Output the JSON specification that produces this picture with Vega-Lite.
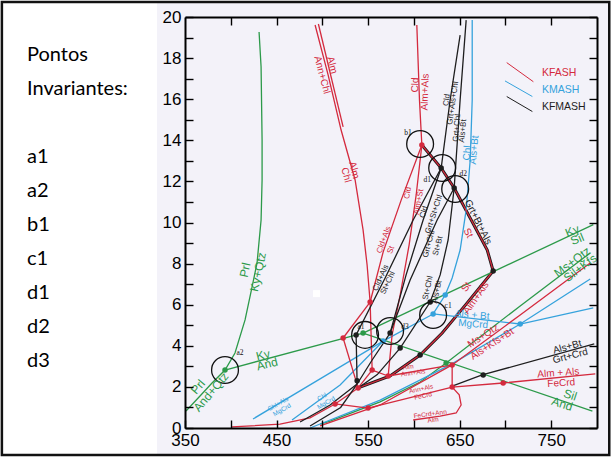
{
  "$schema": "https://vega.github.io/schema/vega-lite/v6.json",
  "background": "white",
  "padding": 0,
  "spacing": 131,
  "bounds": "flush",
  "config": {
    "view": {"stroke": null},
    "axis": {"zindex": 2, "domainColor": "black", "domainWidth": 2, "tickColor": "black", "tickWidth": 1.4, "tickSize": -8, "labelFont": "Liberation Sans", "labelFontSize": 17, "labelColor": "black", "labelPadding": 12, "grid": false, "labelFlush": false, "labelOverlap": false}
  },
  "datasets": {
    "side": [
      {"t": "Pontos", "row": 0}, {"t": "Invariantes:", "row": 1},
      {"t": "a1", "row": 3}, {"t": "a2", "row": 4}, {"t": "b1", "row": 5}, {"t": "c1", "row": 6},
      {"t": "d1", "row": 7}, {"t": "d2", "row": 8}, {"t": "d3", "row": 9}
    ],
    "frame": [{"part": "sheet"}],
    "lines": [
      {"id":"G1","sys":"AS","o":0,"T":351.1,"P":0.83},{"id":"G1","sys":"AS","o":1,"T":366.4,"P":1.56},{"id":"G1","sys":"AS","o":2,"T":379.5,"P":2.19},{"id":"G1","sys":"AS","o":3,"T":393.7,"P":2.82},{"id":"G1","sys":"AS","o":4,"T":404.6,"P":3.65},{"id":"G1","sys":"AS","o":5,"T":415.6,"P":5.26},{"id":"G1","sys":"AS","o":6,"T":423.2,"P":6.86},{"id":"G1","sys":"AS","o":7,"T":428.7,"P":8.03},{"id":"G1","sys":"AS","o":8,"T":433.1,"P":10.12},{"id":"G1","sys":"AS","o":9,"T":434.2,"P":12.07},{"id":"G1","sys":"AS","o":10,"T":434.2,"P":14.01},{"id":"G1","sys":"AS","o":11,"T":433.1,"P":17.57},{"id":"G1","sys":"AS","o":12,"T":430.9,"P":19.27},
      {"id":"G2","sys":"AS","o":0,"T":393.7,"P":2.82},{"id":"G2","sys":"AS","o":1,"T":544.5,"P":4.62},
      {"id":"G3","sys":"AS","o":0,"T":544.5,"P":4.62},{"id":"G3","sys":"AS","o":1,"T":796,"P":9.9},
      {"id":"G4","sys":"AS","o":0,"T":544.5,"P":4.62},{"id":"G4","sys":"AS","o":1,"T":795,"P":0.82},
      {"id":"G5","sys":"AS","o":0,"T":497.5,"P":0.19},{"id":"G5","sys":"AS","o":1,"T":508.5,"P":0.34},{"id":"G5","sys":"AS","o":2,"T":563.1,"P":1.27},{"id":"G5","sys":"AS","o":3,"T":606.8,"P":2.24},{"id":"G5","sys":"AS","o":4,"T":635.2,"P":3.16},{"id":"G5","sys":"AS","o":5,"T":716.1,"P":5.94},{"id":"G5","sys":"AS","o":6,"T":792.6,"P":8.52},
      {"id":"B1","sys":"KMASH","o":0,"T":663.7,"P":19.85},{"id":"B1","sys":"KMASH","o":1,"T":663.7,"P":15.96},{"id":"B1","sys":"KMASH","o":2,"T":661.5,"P":13.04},{"id":"B1","sys":"KMASH","o":3,"T":657.1,"P":10.61},{"id":"B1","sys":"KMASH","o":4,"T":650.5,"P":8.66},{"id":"B1","sys":"KMASH","o":5,"T":641.8,"P":7.3},{"id":"B1","sys":"KMASH","o":6,"T":634.2,"P":6.47},{"id":"B1","sys":"KMASH","o":7,"T":621.0,"P":5.55},
      {"id":"B2","sys":"KMASH","o":0,"T":424.3,"P":0.44},{"id":"B2","sys":"KMASH","o":1,"T":508.5,"P":2.68},{"id":"B2","sys":"KMASH","o":2,"T":566.4,"P":4.23},{"id":"B2","sys":"KMASH","o":3,"T":621.0,"P":5.55},
      {"id":"B3","sys":"KMASH","o":0,"T":621.0,"P":5.55},{"id":"B3","sys":"KMASH","o":1,"T":716.1,"P":5.06},{"id":"B3","sys":"KMASH","o":2,"T":795.9,"P":5.84},
      {"id":"B4","sys":"KMASH","o":0,"T":486.6,"P":0.0},{"id":"B4","sys":"KMASH","o":1,"T":563.1,"P":1.36},{"id":"B4","sys":"KMASH","o":2,"T":639.6,"P":3.07},{"id":"B4","sys":"KMASH","o":3,"T":716.1,"P":5.06},{"id":"B4","sys":"KMASH","o":4,"T":792.6,"P":7.25},
      {"id":"B5","sys":"KMASH","o":0,"T":466.9,"P":0.39},{"id":"B5","sys":"KMASH","o":1,"T":519.4,"P":2.09},{"id":"B5","sys":"KMASH","o":2,"T":566.4,"P":4.23},
      {"id":"R1","sys":"KFASH","o":0,"T":492.1,"P":19.61},{"id":"R1","sys":"KFASH","o":1,"T":506.3,"P":17.18},{"id":"R1","sys":"KFASH","o":2,"T":520.5,"P":14.5},{"id":"R1","sys":"KFASH","o":3,"T":535.8,"P":12.07},{"id":"R1","sys":"KFASH","o":4,"T":544.5,"P":9.64},{"id":"R1","sys":"KFASH","o":5,"T":548.9,"P":7.93},{"id":"R1","sys":"KFASH","o":6,"T":552.2,"P":6.13},{"id":"R1","sys":"KFASH","o":7,"T":554.4,"P":2.82},
      {"id":"R1b","sys":"KFASH","o":0,"T":495.7,"P":19.66},{"id":"R1b","sys":"KFASH","o":1,"T":522.7,"P":14.65},
      {"id":"R2","sys":"KFASH","o":0,"T":603.2,"P":19.61},{"id":"R2","sys":"KFASH","o":1,"T":606.1,"P":15.96},{"id":"R2","sys":"KFASH","o":2,"T":608.7,"P":13.77},
      {"id":"R3","sys":"KFASH","o":0,"T":608.7,"P":13.77},{"id":"R3","sys":"KFASH","o":1,"T":602.5,"P":11.34},{"id":"R3","sys":"KFASH","o":2,"T":594.8,"P":8.91},{"id":"R3","sys":"KFASH","o":3,"T":585.0,"P":6.47},{"id":"R3","sys":"KFASH","o":4,"T":576.2,"P":4.53},{"id":"R3","sys":"KFASH","o":5,"T":571.9,"P":2.53},
      {"id":"R4","sys":"KFASH","o":0,"T":608.7,"P":13.77},{"id":"R4","sys":"KFASH","o":1,"T":586.1,"P":11.09},{"id":"R4","sys":"KFASH","o":2,"T":566.4,"P":8.56},{"id":"R4","sys":"KFASH","o":3,"T":552.2,"P":6.13},
      {"id":"R5","sys":"KFASH","o":0,"T":608.7,"P":13.77},{"id":"R5","sys":"KFASH","o":1,"T":629.8,"P":12.65},{"id":"R5","sys":"KFASH","o":2,"T":644.0,"P":11.68},{"id":"R5","sys":"KFASH","o":3,"T":680.1,"P":8.66},{"id":"R5","sys":"KFASH","o":4,"T":686.6,"P":7.64},
      {"id":"R6","sys":"KFASH","o":0,"T":686.6,"P":7.64},{"id":"R6","sys":"KFASH","o":1,"T":657.1,"P":6.03},{"id":"R6","sys":"KFASH","o":2,"T":630.9,"P":4.62},{"id":"R6","sys":"KFASH","o":3,"T":606.8,"P":3.55},{"id":"R6","sys":"KFASH","o":4,"T":574.0,"P":2.53},{"id":"R6","sys":"KFASH","o":5,"T":539.1,"P":1.95},
      {"id":"R7","sys":"KFASH","o":0,"T":571.9,"P":2.53},{"id":"R7","sys":"KFASH","o":1,"T":641.8,"P":3.07},
      {"id":"R8","sys":"KFASH","o":0,"T":641.8,"P":1.99},{"id":"R8","sys":"KFASH","o":1,"T":697.5,"P":2.19},{"id":"R8","sys":"KFASH","o":2,"T":798.1,"P":2.63},
      {"id":"R9","sys":"KFASH","o":0,"T":641.8,"P":3.07},{"id":"R9","sys":"KFASH","o":1,"T":641.8,"P":1.99},
      {"id":"R10","sys":"KFASH","o":0,"T":641.8,"P":1.99},{"id":"R10","sys":"KFASH","o":1,"T":550.0,"P":0.97},
      {"id":"R11","sys":"KFASH","o":0,"T":641.8,"P":1.99},{"id":"R11","sys":"KFASH","o":1,"T":649.5,"P":1.61},{"id":"R11","sys":"KFASH","o":2,"T":651.6,"P":1.12},{"id":"R11","sys":"KFASH","o":3,"T":646.2,"P":0.73},{"id":"R11","sys":"KFASH","o":4,"T":628.7,"P":0.58},{"id":"R11","sys":"KFASH","o":5,"T":599.2,"P":0.39},
      {"id":"R12","sys":"KFASH","o":0,"T":401.4,"P":0.05},{"id":"R12","sys":"KFASH","o":1,"T":453.8,"P":0.19},{"id":"R12","sys":"KFASH","o":2,"T":486.6,"P":0.49},{"id":"R12","sys":"KFASH","o":3,"T":513.9,"P":1.17},
      {"id":"R13","sys":"KFASH","o":0,"T":513.9,"P":1.17},{"id":"R13","sys":"KFASH","o":1,"T":550.0,"P":0.97},
      {"id":"R14","sys":"KFASH","o":0,"T":552.2,"P":6.13},{"id":"R14","sys":"KFASH","o":1,"T":522.7,"P":4.38},
      {"id":"R15","sys":"KFASH","o":0,"T":522.7,"P":4.38},{"id":"R15","sys":"KFASH","o":1,"T":539.1,"P":1.95},
      {"id":"R16","sys":"KFASH","o":0,"T":539.1,"P":1.95},{"id":"R16","sys":"KFASH","o":1,"T":513.9,"P":1.17},
      {"id":"R17","sys":"KFASH","o":0,"T":539.1,"P":1.95},{"id":"R17","sys":"KFASH","o":1,"T":554.4,"P":2.82},
      {"id":"R18","sys":"KFASH","o":0,"T":554.4,"P":2.82},{"id":"R18","sys":"KFASH","o":1,"T":571.9,"P":2.53},
      {"id":"Rm","sys":"KFASH","o":0,"T":497.5,"P":0.1},{"id":"Rm","sys":"KFASH","o":1,"T":563.1,"P":1.12},{"id":"Rm","sys":"KFASH","o":2,"T":641.8,"P":3.07},{"id":"Rm","sys":"KFASH","o":3,"T":716.1,"P":5.5},{"id":"Rm","sys":"KFASH","o":4,"T":792.6,"P":8.03},
      {"id":"K1","sys":"KFMASH","o":0,"T":650.5,"P":19.12},{"id":"K1","sys":"KFMASH","o":1,"T":639.6,"P":15.96},{"id":"K1","sys":"KFMASH","o":2,"T":629.8,"P":12.65},{"id":"K1","sys":"KFMASH","o":3,"T":610.1,"P":10.12},{"id":"K1","sys":"KFMASH","o":4,"T":591.5,"P":7.45},{"id":"K1","sys":"KFMASH","o":5,"T":574.0,"P":4.62},
      {"id":"K2","sys":"KFMASH","o":0,"T":657.1,"P":19.85},{"id":"K2","sys":"KFMASH","o":1,"T":650.5,"P":15.96},{"id":"K2","sys":"KFMASH","o":2,"T":644.0,"P":11.68},{"id":"K2","sys":"KFMASH","o":3,"T":637.4,"P":9.15},{"id":"K2","sys":"KFMASH","o":4,"T":628.7,"P":7.45},{"id":"K2","sys":"KFMASH","o":5,"T":617.8,"P":6.13},{"id":"K2","sys":"KFMASH","o":6,"T":585.0,"P":3.89},{"id":"K2","sys":"KFMASH","o":7,"T":560.0,"P":2.6},{"id":"K2","sys":"KFMASH","o":8,"T":539.1,"P":1.95},
      {"id":"K4","sys":"KFMASH","o":0,"T":629.8,"P":12.65},{"id":"K4","sys":"KFMASH","o":1,"T":599.2,"P":10.12},{"id":"K4","sys":"KFMASH","o":2,"T":568.6,"P":7.3},{"id":"K4","sys":"KFMASH","o":3,"T":536.9,"P":4.53},{"id":"K4","sys":"KFMASH","o":4,"T":538.0,"P":2.14},
      {"id":"K6","sys":"KFMASH","o":0,"T":644.0,"P":11.68},{"id":"K6","sys":"KFMASH","o":1,"T":625.4,"P":10.12},{"id":"K6","sys":"KFMASH","o":2,"T":595.9,"P":7.2},{"id":"K6","sys":"KFMASH","o":3,"T":574.0,"P":4.62},
      {"id":"K7","sys":"KFMASH","o":0,"T":574.0,"P":4.62},{"id":"K7","sys":"KFMASH","o":1,"T":554.4,"P":3.31},{"id":"K7","sys":"KFMASH","o":2,"T":538.0,"P":2.14},
      {"id":"K8","sys":"KFMASH","o":0,"T":641.8,"P":2.04},{"id":"K8","sys":"KFMASH","o":1,"T":674.6,"P":2.58},{"id":"K8","sys":"KFMASH","o":2,"T":797.0,"P":4.09},
      {"id":"K12","sys":"KFMASH","o":0,"T":475.7,"P":0.29},{"id":"K12","sys":"KFMASH","o":1,"T":508.5,"P":1.12},{"id":"K12","sys":"KFMASH","o":2,"T":538.0,"P":2.14},
      {"id":"K13","sys":"KFMASH","o":0,"T":486.6,"P":0.1},{"id":"K13","sys":"KFMASH","o":1,"T":520.0,"P":1.0},{"id":"K13","sys":"KFMASH","o":2,"T":538.0,"P":2.14}
    ],
    "under": [
      {"id":"D1","o":0,"T":608.7,"P":13.77},{"id":"D1","o":1,"T":629.8,"P":12.65},{"id":"D1","o":2,"T":644.0,"P":11.68},{"id":"D1","o":3,"T":680.1,"P":8.66},{"id":"D1","o":4,"T":686.6,"P":7.64},
      {"id":"D2","o":0,"T":686.6,"P":7.64},{"id":"D2","o":1,"T":657.1,"P":6.03},{"id":"D2","o":2,"T":630.9,"P":4.62},{"id":"D2","o":3,"T":606.8,"P":3.55},{"id":"D2","o":4,"T":574.0,"P":2.53},{"id":"D2","o":5,"T":539.1,"P":1.95}
    ],
    "dots": [
      {"sys":"AS","T":393.7,"P":2.82},{"sys":"AS","T":544.5,"P":4.62},{"sys":"AS","T":635.2,"P":3.16},
      {"sys":"KFASH","T":608.7,"P":13.77},{"sys":"KFASH","T":552.2,"P":6.13},{"sys":"KFASH","T":522.7,"P":4.38},{"sys":"KFASH","T":554.4,"P":2.82},{"sys":"KFASH","T":571.9,"P":2.53},{"sys":"KFASH","T":539.1,"P":1.95},{"sys":"KFASH","T":513.9,"P":1.17},{"sys":"KFASH","T":550.0,"P":0.97},{"sys":"KFASH","T":641.8,"P":3.07},{"sys":"KFASH","T":641.8,"P":1.99},{"sys":"KFASH","T":697.5,"P":2.19},
      {"sys":"KFMASH","T":629.8,"P":12.65},{"sys":"KFMASH","T":644.0,"P":11.68},{"sys":"KFMASH","T":574.0,"P":4.62},{"sys":"KFMASH","T":536.9,"P":4.53},{"sys":"KFMASH","T":617.8,"P":6.13},{"sys":"KFMASH","T":585.0,"P":3.89},{"sys":"KFMASH","T":606.8,"P":3.55},{"sys":"KFMASH","T":675.7,"P":2.58},{"sys":"KFMASH","T":538.0,"P":2.3},{"sys":"KFMASH","T":686.6,"P":7.64},
      {"sys":"KMASH","T":634.2,"P":6.47},{"sys":"KMASH","T":621.0,"P":5.55},{"sys":"KMASH","T":566.4,"P":4.23},{"sys":"KMASH","T":716.1,"P":5.06}
    ],
    "rings": [
      {"pt":"a2","T":393.7,"P":2.82},{"pt":"a1","T":546.7,"P":4.53},{"pt":"b1","T":606.8,"P":13.82},{"pt":"d1","T":630.9,"P":12.65},{"pt":"d2","T":645.1,"P":11.63},{"pt":"c1","T":621.0,"P":5.5},{"pt":"d3","T":574.0,"P":4.72}
    ],
    "ringlabels": [
      {"t":"a2","T":410.1,"P":3.65},{"t":"b1","T":593.7,"P":14.36},{"t":"d1","T":614.5,"P":12.07},{"t":"d2","T":653.8,"P":12.36},{"t":"c1","T":637.4,"P":5.94},{"t":"d3","T":590.4,"P":4.91},{"t":"a1","T":542.3,"P":4.91}
    ],
    "labL": [
      {"t":"Prl","T":415.6,"P":7.69,"sys":"AS","rot":-78},{"t":"Ky+Qtz","T":429.8,"P":7.59,"sys":"AS","rot":-78},
      {"t":"Prl","T":364.2,"P":2.0,"sys":"AS","rot":-50},{"t":"And+Qtz","T":378.4,"P":1.75,"sys":"AS","rot":-50},
      {"t":"Ky","T":435.2,"P":3.55,"sys":"AS","rot":-14},{"t":"And","T":439.6,"P":3.11,"sys":"AS","rot":-14},
      {"t":"Ky","T":773.0,"P":9.59,"sys":"AS","rot":-22},{"t":"Sil","T":778.4,"P":9.2,"sys":"AS","rot":-22},
      {"t":"Ms+Qtz","T":773.0,"P":8.08,"sys":"AS","rot":-37},{"t":"Sil+Kfs","T":781.7,"P":7.79,"sys":"AS","rot":-37},
      {"t":"Sil","T":770.8,"P":1.61,"sys":"AS","rot":18},{"t":"And","T":762.0,"P":1.17,"sys":"AS","rot":18}
    ],
    "labM": [
      {"t":"Als+Bt","T":767.5,"P":3.94,"sys":"KFMASH","rot":-15},{"t":"Grt+Crd","T":770.8,"P":3.5,"sys":"KFMASH","rot":-15},
      {"t":"Alm + Als","T":757.7,"P":2.68,"sys":"KFASH","rot":-4},{"t":"FeCrd","T":760.9,"P":2.19,"sys":"KFASH","rot":-4},
      {"t":"Als + Bt","T":663.7,"P":5.5,"sys":"KMASH","rot":5},{"t":"MgCrd","T":664.8,"P":5.06,"sys":"KMASH","rot":5},
      {"t":"Ms+Qtz","T":675.7,"P":4.48,"sys":"KFASH","rot":-33},{"t":"Als+Kfs+Bt","T":685.5,"P":4.09,"sys":"KFASH","rot":-33},
      {"t":"St","T":657.1,"P":6.86,"sys":"KFASH","rot":-55},{"t":"Alm+Als","T":668.0,"P":6.33,"sys":"KFASH","rot":-55},
      {"t":"Grt+Bt+Als","T":670.2,"P":10.02,"sys":"KFMASH","rot":63},{"t":"St","T":659.3,"P":9.49,"sys":"KFASH","rot":63},
      {"t":"Chl","T":658.2,"P":13.38,"sys":"KMASH","rot":-85},{"t":"Als+Bt","T":665.8,"P":13.53,"sys":"KMASH","rot":-85},
      {"t":"Cld","T":601.4,"P":16.69,"sys":"KFASH","rot":-88},{"t":"Alm+Als","T":612.3,"P":16.35,"sys":"KFASH","rot":-88},
      {"t":"Alm","T":510.7,"P":17.66,"sys":"KFASH","rot":75},{"t":"Ann+Chl","T":499.7,"P":17.18,"sys":"KFASH","rot":75},
      {"t":"Alm","T":534.7,"P":12.55,"sys":"KFASH","rot":75},{"t":"Chl","T":526.0,"P":12.31,"sys":"KFASH","rot":75}
    ],
    "labS": [
      {"t":"Cld","T":593.7,"P":11.44,"sys":"KFASH","rot":-80},{"t":"Alm+St","T":605.7,"P":11.0,"sys":"KFASH","rot":-80},
      {"t":"Cld+Als","T":567.5,"P":9.15,"sys":"KFASH","rot":-70},{"t":"St","T":575.1,"P":8.66,"sys":"KFASH","rot":-70},
      {"t":"Cld+Als","T":564.2,"P":7.3,"sys":"KFMASH","rot":-65},{"t":"St+Chl","T":571.9,"P":7.06,"sys":"KFMASH","rot":-65},
      {"t":"Cld","T":611.2,"P":10.5,"sys":"KFMASH","rot":-72},{"t":"Grt+St+Chl","T":622.1,"P":10.4,"sys":"KFMASH","rot":-72},
      {"t":"Grt+Chl","T":616.7,"P":8.95,"sys":"KFMASH","rot":-75},{"t":"St+Bt","T":626.5,"P":8.86,"sys":"KFMASH","rot":-75},
      {"t":"St+Chl","T":615.6,"P":6.81,"sys":"KFMASH","rot":-78},{"t":"Als+Bt","T":625.4,"P":6.62,"sys":"KFMASH","rot":-78},
      {"t":"Cld","T":636.3,"P":15.96,"sys":"KFMASH","rot":-82},{"t":"Grt+Als+Chl","T":642.9,"P":15.81,"sys":"KFMASH","rot":-82},
      {"t":"Grt+Chl","T":647.3,"P":14.6,"sys":"KFMASH","rot":-85},{"t":"Als+Bt","T":653.8,"P":14.45,"sys":"KFMASH","rot":-85}
    ],
    "labXS": [
      {"t":"Chl+Als","T":451.6,"P":1.17,"sys":"KMASH","rot":-30},{"t":"MgCrd","T":456.0,"P":0.88,"sys":"KMASH","rot":-30},
      {"t":"Chl","T":499.7,"P":1.51,"sys":"KMASH","rot":-30},{"t":"MgCrd","T":504.1,"P":1.22,"sys":"KMASH","rot":-30},
      {"t":"FeCrd+Ann","T":617.8,"P":0.68,"sys":"KFASH","rot":-8},{"t":"Alm","T":621.0,"P":0.39,"sys":"KFASH","rot":-8},
      {"t":"Alm","T":593.7,"P":2.97,"sys":"KFASH","rot":-8},{"t":"Ann+Als","T":599.2,"P":2.68,"sys":"KFASH","rot":-8},
      {"t":"Ann+Als","T":607.9,"P":1.9,"sys":"KFASH","rot":-12},{"t":"FeCrd","T":610.1,"P":1.56,"sys":"KFASH","rot":-12}
    ],
    "keylines": [
      {"sys":"KFASH","T1":701.4,"P1":17.78,"T2":730.5,"P2":16.85},
      {"sys":"KMASH","T1":699.5,"P1":16.89,"T2":729.4,"P2":16.13},
      {"sys":"KFMASH","T1":701.4,"P1":16.13,"T2":729.4,"P2":15.4}
    ],
    "keytext": [
      {"sys":"KFASH","T":739.8,"P":17.26},{"sys":"KMASH","T":739.8,"P":16.45},{"sys":"KFMASH","T":739.8,"P":15.61}
    ],
    "speck": [{"T":493.7,"P":6.54}]
  },
  "hconcat": [
    {
      "width": 54,
      "height": 411,
      "data": {"name": "side"},
      "mark": {"type": "text", "align": "left", "baseline": "middle", "font": "Lato", "fontSize": 20, "color": "black"},
      "encoding": {
        "y": {"field": "row", "type": "quantitative", "scale": {"domain": [-1.1176, 10.9706], "reverse": true, "nice": false, "zero": false}, "axis": null},
        "text": {"field": "t"}
      }
    },
    {
      "width": 412,
      "height": 411,
      "resolve": {"axis": {"x": "independent", "y": "independent"}},
      "layer": [
        {
          "data": {"name": "frame"},
          "mark": {"type": "rect", "fill": "#f3f2f9", "zindex": 0},
          "encoding": {
            "x": {"datum": 319.4, "type": "quantitative", "scale": {"domain": [350, 800], "nice": false, "zero": false}, "axis": null},
            "x2": {"datum": 813.4},
            "y": {"datum": 20.73, "type": "quantitative", "scale": {"domain": [0, 20], "nice": false, "zero": false}, "axis": null},
            "y2": {"datum": -1.31}
          }
        },
        {
          "data": {"name": "under"},
          "mark": {"type": "line", "stroke": "#1a1a1a", "strokeWidth": 3},
          "encoding": {
            "x": {"field": "T", "type": "quantitative", "axis": {"orient": "bottom", "zindex": 3, "values": [350, 400, 450, 500, 550, 600, 650, 700, 750], "labelExpr": "datum.value % 100 == 50 ? datum.label : ''", "title": null}},
            "y": {"field": "P", "type": "quantitative", "axis": {"orient": "left", "zindex": 3, "values": [0,1,2,3,4,5,6,7,8,9,10,11,12,13,14,15,16,17,18,19,20], "labelExpr": "datum.value % 2 == 0 ? datum.label : ''", "title": null}},
            "detail": {"field": "id"},
            "order": {"field": "o"}
          }
        },
        {
          "data": {"name": "lines"},
          "mark": {"type": "line", "strokeWidth": 1.3},
          "encoding": {
            "x": {"field": "T", "type": "quantitative", "axis": {"orient": "top", "zindex": 3, "values": [400, 450, 500, 550, 600, 650, 700, 750], "labels": false, "title": null}},
            "y": {"field": "P", "type": "quantitative", "axis": {"orient": "right", "zindex": 3, "values": [0,1,2,3,4,5,6,7,8,9,10,11,12,13,14,15,16,17,18,19,20], "labels": false, "title": null}},
            "detail": {"field": "id"},
            "order": {"field": "o"},
            "color": {"field": "sys", "type": "nominal", "legend": null, "scale": {"domain": ["KFASH", "KMASH", "KFMASH", "AS"], "range": ["#d42a3e", "#35a2dc", "#1e1e1e", "#2c9a4a"]}}
          }
        },
        {
          "data": {"name": "dots"},
          "mark": {"type": "point", "filled": true, "opacity": 1, "size": 30, "shape": "circle"},
          "encoding": {
            "x": {"field": "T", "type": "quantitative", "axis": null},
            "y": {"field": "P", "type": "quantitative", "axis": null},
            "color": {"field": "sys", "type": "nominal", "legend": null}
          }
        },
        {
          "data": {"name": "rings"},
          "mark": {"type": "point", "filled": false, "stroke": "#111111", "strokeWidth": 1.3, "size": 720, "shape": "circle", "opacity": 1},
          "encoding": {
            "x": {"field": "T", "type": "quantitative", "axis": null},
            "y": {"field": "P", "type": "quantitative", "axis": null}
          }
        },
        {
          "data": {"name": "ringlabels"},
          "mark": {"type": "text", "font": "Liberation Serif", "fontSize": 7.5, "color": "#111111", "align": "center", "baseline": "middle"},
          "encoding": {
            "x": {"field": "T", "type": "quantitative", "axis": null},
            "y": {"field": "P", "type": "quantitative", "axis": null},
            "text": {"field": "t"}
          }
        },
        {
          "data": {"name": "labL"},
          "mark": {"type": "text", "font": "Liberation Sans", "fontSize": 12, "align": "center", "baseline": "middle"},
          "encoding": {
            "x": {"field": "T", "type": "quantitative", "axis": null},
            "y": {"field": "P", "type": "quantitative", "axis": null},
            "text": {"field": "t"},
            "angle": {"field": "rot", "type": "quantitative", "scale": null},
            "color": {"field": "sys", "type": "nominal", "legend": null}
          }
        },
        {
          "data": {"name": "labM"},
          "mark": {"type": "text", "font": "Liberation Sans", "fontSize": 10, "align": "center", "baseline": "middle"},
          "encoding": {
            "x": {"field": "T", "type": "quantitative", "axis": null},
            "y": {"field": "P", "type": "quantitative", "axis": null},
            "text": {"field": "t"},
            "angle": {"field": "rot", "type": "quantitative", "scale": null},
            "color": {"field": "sys", "type": "nominal", "legend": null}
          }
        },
        {
          "data": {"name": "labS"},
          "mark": {"type": "text", "font": "Liberation Sans", "fontSize": 8, "align": "center", "baseline": "middle"},
          "encoding": {
            "x": {"field": "T", "type": "quantitative", "axis": null},
            "y": {"field": "P", "type": "quantitative", "axis": null},
            "text": {"field": "t"},
            "angle": {"field": "rot", "type": "quantitative", "scale": null},
            "color": {"field": "sys", "type": "nominal", "legend": null}
          }
        },
        {
          "data": {"name": "labXS"},
          "mark": {"type": "text", "font": "Liberation Sans", "fontSize": 6.5, "align": "center", "baseline": "middle"},
          "encoding": {
            "x": {"field": "T", "type": "quantitative", "axis": null},
            "y": {"field": "P", "type": "quantitative", "axis": null},
            "text": {"field": "t"},
            "angle": {"field": "rot", "type": "quantitative", "scale": null},
            "color": {"field": "sys", "type": "nominal", "legend": null}
          }
        },
        {
          "data": {"name": "keylines"},
          "mark": {"type": "rule", "strokeWidth": 1},
          "encoding": {
            "x": {"field": "T1", "type": "quantitative", "axis": null},
            "x2": {"field": "T2"},
            "y": {"field": "P1", "type": "quantitative", "axis": null},
            "y2": {"field": "P2"},
            "color": {"field": "sys", "type": "nominal", "legend": null}
          }
        },
        {
          "data": {"name": "keytext"},
          "mark": {"type": "text", "font": "Liberation Sans", "fontSize": 10.5, "align": "left", "baseline": "middle"},
          "encoding": {
            "x": {"field": "T", "type": "quantitative", "axis": null},
            "y": {"field": "P", "type": "quantitative", "axis": null},
            "text": {"field": "sys"},
            "color": {"field": "sys", "type": "nominal", "legend": null}
          }
        },
        {
          "data": {"name": "speck"},
          "mark": {"type": "square", "filled": true, "color": "white", "size": 49, "opacity": 1},
          "encoding": {
            "x": {"field": "T", "type": "quantitative", "axis": null},
            "y": {"field": "P", "type": "quantitative", "axis": null}
          }
        },
        {
          "data": {"name": "frame"},
          "mark": {"type": "rect", "fill": null, "stroke": "#111111", "strokeWidth": 2.5},
          "encoding": {
            "x": {"datum": 150.0, "type": "quantitative", "axis": null},
            "x2": {"datum": 813.4},
            "y": {"datum": 20.73, "type": "quantitative", "axis": null},
            "y2": {"datum": -1.31}
          }
        }
      ]
    }
  ]
}
